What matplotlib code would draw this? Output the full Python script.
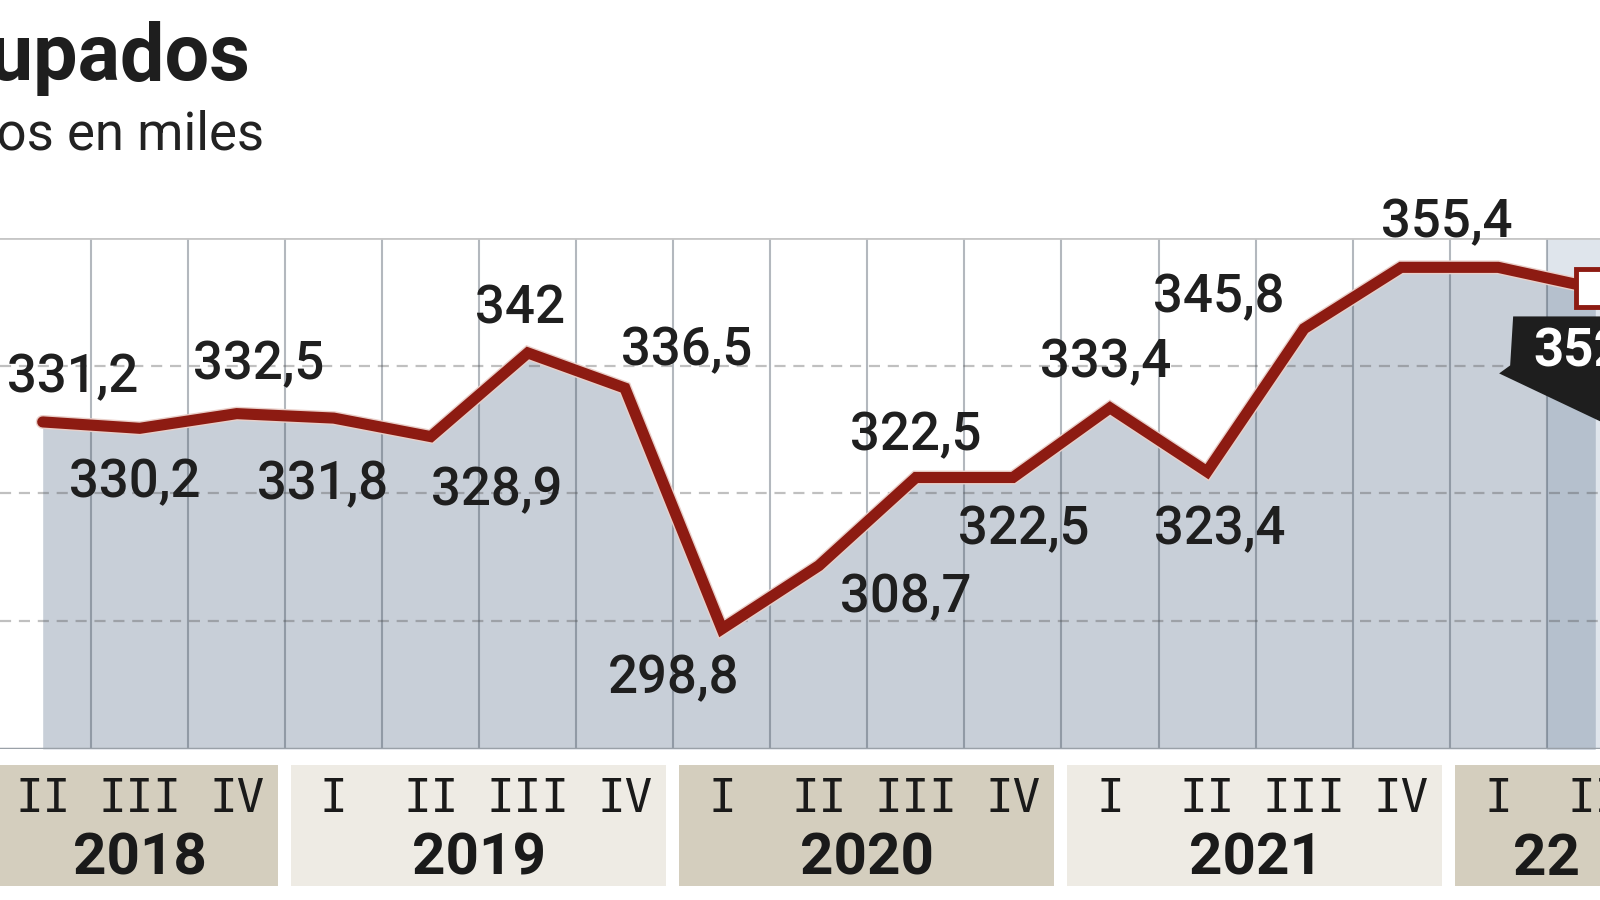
import numpy as np
import matplotlib
matplotlib.use('Agg')
import matplotlib.pyplot as plt
import matplotlib.patheffects as pe
import matplotlib.transforms as mtransforms
from matplotlib.patches import Polygon, Rectangle

# datos: ocupados por trimestre, en miles
years = ['2018', '2019', '2020', '2021', '22']
year_idx = [0, 0, 0, 1, 1, 1, 1, 2, 2, 2, 2, 3, 3, 3, 3, 4, 4]
quarters = ['II', 'III', 'IV', 'I', 'II', 'III', 'IV', 'I', 'II', 'III', 'IV',
            'I', 'II', 'III', 'IV', 'I', 'II']
ocupados = [331.2, 330.2, 332.5, 331.8, 328.9, 342.0, 336.5, 298.8, 308.7,
            322.5, 322.5, 333.4, 323.4, 345.8, 355.4, 355.4, 352.1]

# where each value label sits, pixels from its point (None = no label)
label_offsets = [(30, 44), (-5, -54), (22, 49), (-11, -67), (66, -54),
                 (-8, 44), (62, 37), (-48, -50), (87, -32), (0, 42),
                 (11, -52), (-4, 45), (13, -58), (-85, 31), (46, 45),
                 None, None]

RED = '#8d1b12'
NUM_FONT = 'Roboto'
ROMAN_FONT = 'DejaVu Sans Mono'
XLIM = (-0.44, 16.05)


def fmt(v):
    return ('%g' % v).replace('.', ',')


fig = plt.figure(figsize=(16, 9), dpi=100)
fig.patch.set_facecolor('white')

ax = fig.add_axes([0, 0.1678, 1, 0.5678])
ax.set_axis_off()
x = np.arange(len(ocupados))

# fondo
ax.fill_between(x, ocupados, 280, color='#c8cfd8', lw=0, zorder=1)
ax.axvspan(15.5, XLIM[1], color='#dfe5ec', lw=0, zorder=0.5)
last = ax.fill_between(x[-2:], ocupados[-2:], 280, color='#b5c0cd', lw=0, zorder=1.1)
last.set_clip_path(Rectangle((15.5, 280), 2, 80, transform=ax.transData))

# rejilla
for k in x[:-1] + 0.5:
    ax.axvline(k, color=(0.22, 0.27, 0.33, 0.38), lw=1.5, zorder=2)
for yv in (300, 320, 340):
    ax.axhline(yv, color=(0.3, 0.3, 0.3, 0.35), lw=1.6, dashes=(5, 3.5), zorder=2)
ax.axhline(360, color='#c6c6c6', lw=2, zorder=2)
ax.axhline(280, color='#9aa1a8', lw=2.5, zorder=3)

# linea
ax.plot(x, ocupados, color=RED, lw=8, solid_joinstyle='miter',
        solid_capstyle='round', zorder=4,
        path_effects=[pe.Stroke(linewidth=10, foreground='#e9cfc9'), pe.Normal()])
ax.plot(x[-1], ocupados[-1], marker='s', ms=28, mfc='white', mec=RED, mew=3.5,
        zorder=5, clip_on=False)

for i, off in enumerate(label_offsets):
    if off is None:
        continue
    ax.annotate(fmt(ocupados[i]), (i, ocupados[i]), xytext=off,
                textcoords='offset pixels', ha='center', va='center',
                fontsize=38, family=NUM_FONT, weight='medium', color='#1f1f1f',
                zorder=6)

# etiqueta del ultimo dato
trans = fig.dpi_scale_trans + mtransforms.ScaledTranslation(x[-1], ocupados[-1], ax.transData)
tag = Polygon([(-0.82, -0.28), (0.2, -0.28), (0.2, -1.4), (-0.96, -0.85), (-0.85, -0.77)],
              closed=True, transform=trans, fc='#1e1e1e', ec='none', zorder=7, clip_on=False)
ax.add_patch(tag)
ax.annotate(fmt(ocupados[-1]), (x[-1], ocupados[-1]), xytext=(-62, -63),
            textcoords='offset pixels', ha='left', va='center', color='white',
            fontsize=38, weight='bold', family=NUM_FONT, zorder=8)

ax.set_xlim(*XLIM)
ax.set_ylim(280, 360)

# eje de trimestres y anios
ax2 = fig.add_axes([0, 0, 1, 0.1678])
ax2.set_axis_off()
ax2.set_xlim(*XLIM)
ax2.set_ylim(0, 1)
for j, yr in enumerate(years):
    idxs = [i for i, yy in enumerate(year_idx) if yy == j]
    x0 = min(idxs) - 0.44
    x1 = max(idxs) + 0.42
    col = '#d4cebe' if j % 2 == 0 else '#eeebe4'
    ax2.add_patch(Rectangle((x0, 0.093), x1 - x0, 0.8, fc=col, ec='none'))
    ax2.text(np.mean(idxs), 0.27, yr, ha='center', va='center', fontsize=42,
             family='Roboto', weight='bold', color='#1a1a1a')
    for i in idxs:
        ax2.text(i, 0.665, quarters[i], ha='center', va='center', fontsize=33,
                 family=ROMAN_FONT, color='#1a1a1a')

# titulos
fig.text(251 / 1600, 1 - 80 / 900, 'Ocupados', ha='right', va='baseline',
         fontsize=57, weight='bold', family='Roboto', color='#1e1e1e')
fig.text(264 / 1600, 1 - 150 / 900, 'Datos en miles', ha='right', va='baseline',
         fontsize=38, family='Roboto', color='#222222')

fig.savefig('out.png', dpi=100, facecolor='white')
